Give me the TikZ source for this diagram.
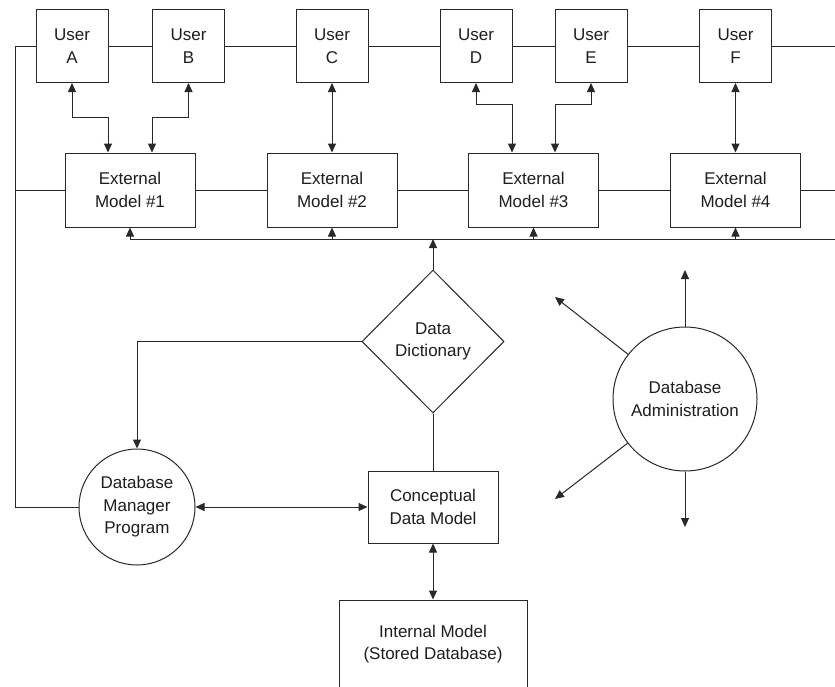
\documentclass[tikz,border=0pt]{standalone}
\usepackage{fontspec}
\setmainfont{Liberation Sans}
\usetikzlibrary{arrows.meta,shapes.geometric}
\definecolor{linec}{RGB}{40,40,40}
\definecolor{txtc}{RGB}{30,30,30}
\begin{document}
\begin{tikzpicture}[x=1pt,y=-1pt,
  line width=1pt, draw=linec,
  tip/.style={-{Triangle[length=9pt,width=8pt]}},
  dtip/.style={{Triangle[length=9pt,width=8pt]}-{Triangle[length=9pt,width=8pt]}},
  base/.style={draw=linec, fill=white, line width=1pt, align=center, inner sep=0pt,
    font=\fontsize{17}{22.5}\selectfont, text=txtc},
  userbox/.style={base, rectangle, minimum width=72pt, minimum height=73pt},
  extbox/.style={base, rectangle, minimum width=130pt, minimum height=74pt},
  circ/.style={base, circle},
  dia/.style={base, diamond, aspect=1, minimum width=142pt, minimum height=143pt}]
\clip (0,0) rectangle (835,686);
\fill[white] (0,0) rectangle (835,686);

% users
\node[userbox] (uA) at (72,46) {User\\A};
\node[userbox] (uB) at (188.5,46) {User\\B};
\node[userbox] (uC) at (332,46) {User\\C};
\node[userbox] (uD) at (476,46) {User\\D};
\node[userbox] (uE) at (591,46) {User\\E};
\node[userbox] (uF) at (735.5,46) {User\\F};

% external models
\node[extbox] (e1) at (130,190) {External\\Model \#1};
\node[extbox] (e2) at (332,190) {External\\Model \#2};
\node[extbox] (e3) at (533.5,190) {External\\Model \#3};
\node[extbox] (e4) at (735.5,190) {External\\Model \#4};

% central nodes
\node[dia] (dd) at (433,341.5) {Data\\Dictionary};
\node[circ, minimum size=116pt] (dmp) at (137,507) {Database\\Manager\\Program};
\node[extbox, minimum height=72pt] (cdm) at (433,507) {Conceptual\\Data Model};
\node[base, rectangle, minimum width=188pt, minimum height=88pt] (im) at (433,644) {Internal Model\\(Stored Database)};
\node[circ, minimum size=144pt] (dba) at (685,399) {Database\\Administration};

% helper coordinates
\coordinate (tl) at (15,46);
\coordinate (tr) at (835,46);
\coordinate (ml) at (15,190);
\coordinate (mr) at (835,190);
\coordinate (lb) at (15,507);
\coordinate (bus) at (0,239);
\coordinate (busR) at (835,239);
\coordinate (yAB) at (0,117);
\coordinate (yDE) at (0,104);
\coordinate (a1) at (685,270);
\coordinate (a2) at (685,527);
\coordinate (a3) at (555,297);
\coordinate (a4) at (555,499);

% top line
\draw (tl) -- (uA);
\draw (uA) -- (uB);
\draw (uB) -- (uC);
\draw (uC) -- (uD);
\draw (uD) -- (uE);
\draw (uE) -- (uF);
\draw (uF) -- (tr);

% external line
\draw (ml) -- (e1);
\draw (e1) -- (e2);
\draw (e2) -- (e3);
\draw (e3) -- (e4);
\draw (e4) -- (mr);

% left vertical
\draw (tl) -- (lb) -- (dmp);

% user <-> external
\draw[dtip] (uA.south) -- (uA.south |- yAB) -| ([xshift=-22pt]e1.north);
\draw[dtip] (uB.south) -- (uB.south |- yAB) -| ([xshift=22pt]e1.north);
\draw[dtip] (uC.south) -- (uC.south |- e2.north);
\draw[dtip] (uD.south) -- (uD.south |- yDE) -| ([xshift=-21.5pt]e3.north);
\draw[dtip] (uE.south) -- (uE.south |- yDE) -| ([xshift=21.5pt]e3.north);
\draw[dtip] (uF.south) -- (uF.south |- e4.north);

% bus
\draw (e1.south |- bus) -- (busR);
\draw[tip] (e1.south |- bus) -- (e1.south);
\draw[tip] (e2.south |- bus) -- (e2.south);
\draw[tip] (e3.south |- bus) -- (e3.south);
\draw[tip] (e4.south |- bus) -- (e4.south);
\draw[tip] (dd.north) -- (dd.north |- bus);

% dictionary / manager / conceptual
\draw[tip] (dd.west) -| (dmp.north);
\draw (cdm.north) -- (dd.south);
\draw[dtip] (dmp) -- (cdm);
\draw[dtip] (cdm.south) -- (im.north);

% administration
\draw[tip] (dba) -- (a1);
\draw[tip] (dba) -- (a2);
\draw[tip] (dba) -- (a3);
\draw[tip] (dba) -- (a4);
\end{tikzpicture}
\end{document}
